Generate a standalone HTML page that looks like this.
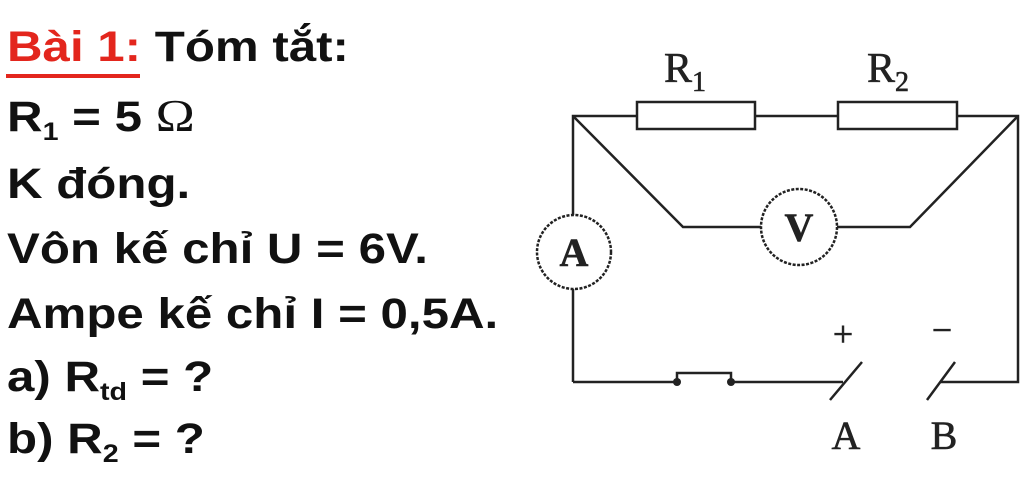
<!DOCTYPE html>
<html><head><meta charset="utf-8"><style>
html,body{margin:0;padding:0;background:#fff;width:1024px;height:486px;overflow:hidden}
.t{position:absolute;left:7px;font-family:"Liberation Sans",Arial,sans-serif;font-weight:bold;font-size:43px;color:#111;white-space:nowrap;line-height:1;transform:scaleX(1.145);transform-origin:0 0}
sub{font-size:25px;vertical-align:-9px}
</style></head><body>
<div class="t" style="top:26px"><span style="color:#e3261d">Bài 1</span><span style="color:#e3261d">:</span> Tóm tắt:</div>
<div style="position:absolute;left:6px;top:74px;width:134px;height:4px;background:#e3261d"></div>
<div class="t" style="top:93px">R<sub>1</sub> = 5 <span style="font-family:'Liberation Serif',serif;font-weight:normal;font-size:46px">Ω</span></div>
<div class="t" style="top:163px">K đóng.</div>
<div class="t" style="top:228px">Vôn kế chỉ U = 6V.</div>
<div class="t" style="top:293px">Ampe kế chỉ I = 0,5A.</div>
<div class="t" style="top:356px">a) R<sub>td</sub> = ?</div>
<div class="t" style="top:418px">b) R<sub>2</sub> = ?</div>
<svg width="1024" height="486" style="position:absolute;left:0;top:0" font-family="Liberation Serif,serif">
<g stroke="#222" stroke-width="2.5" fill="none">
<polyline points="573,215 573,116 637,116"/>
<line x1="755" y1="116" x2="838" y2="116"/>
<polyline points="957,116 1018,116 1018,382 940,382"/>
<rect x="637" y="102" width="118" height="27" fill="#fff"/>
<rect x="838" y="102" width="119" height="27" fill="#fff"/>
<polyline points="573,116 683,227 761,227"/>
<polyline points="837,227 910,227 1018,116"/>
<line x1="573" y1="289" x2="573" y2="382"/>
<line x1="573" y1="382" x2="677" y2="382"/>
<polyline points="677,382 677,373 731,373 731,382"/>
<line x1="731" y1="382" x2="843" y2="382"/>
<line x1="830" y1="400" x2="862" y2="362"/>
<line x1="927" y1="400" x2="955" y2="362"/>
<circle cx="574" cy="252" r="37" stroke-dasharray="3,1.5"/>
<circle cx="799" cy="227" r="38" stroke-dasharray="3,1.5"/>
</g>
<circle cx="677" cy="382" r="4" fill="#222"/>
<circle cx="731" cy="382" r="4" fill="#222"/>
<g fill="#222" text-anchor="middle" stroke="#222" stroke-width="0.6">
<text x="574" y="266" font-size="40" font-weight="bold">A</text>
<text x="799" y="241" font-size="40" font-weight="bold">V</text>
<text x="685" y="82" font-size="42">R<tspan font-size="28" dy="9">1</tspan></text>
<text x="888" y="82" font-size="42">R<tspan font-size="28" dy="9">2</tspan></text>
<text x="843" y="346" font-size="36">+</text>
<text x="942" y="342" font-size="36">−</text>
<text x="846" y="449" font-size="40">A</text>
<text x="944" y="449" font-size="40">B</text>
</g>
</svg>
</body></html>
